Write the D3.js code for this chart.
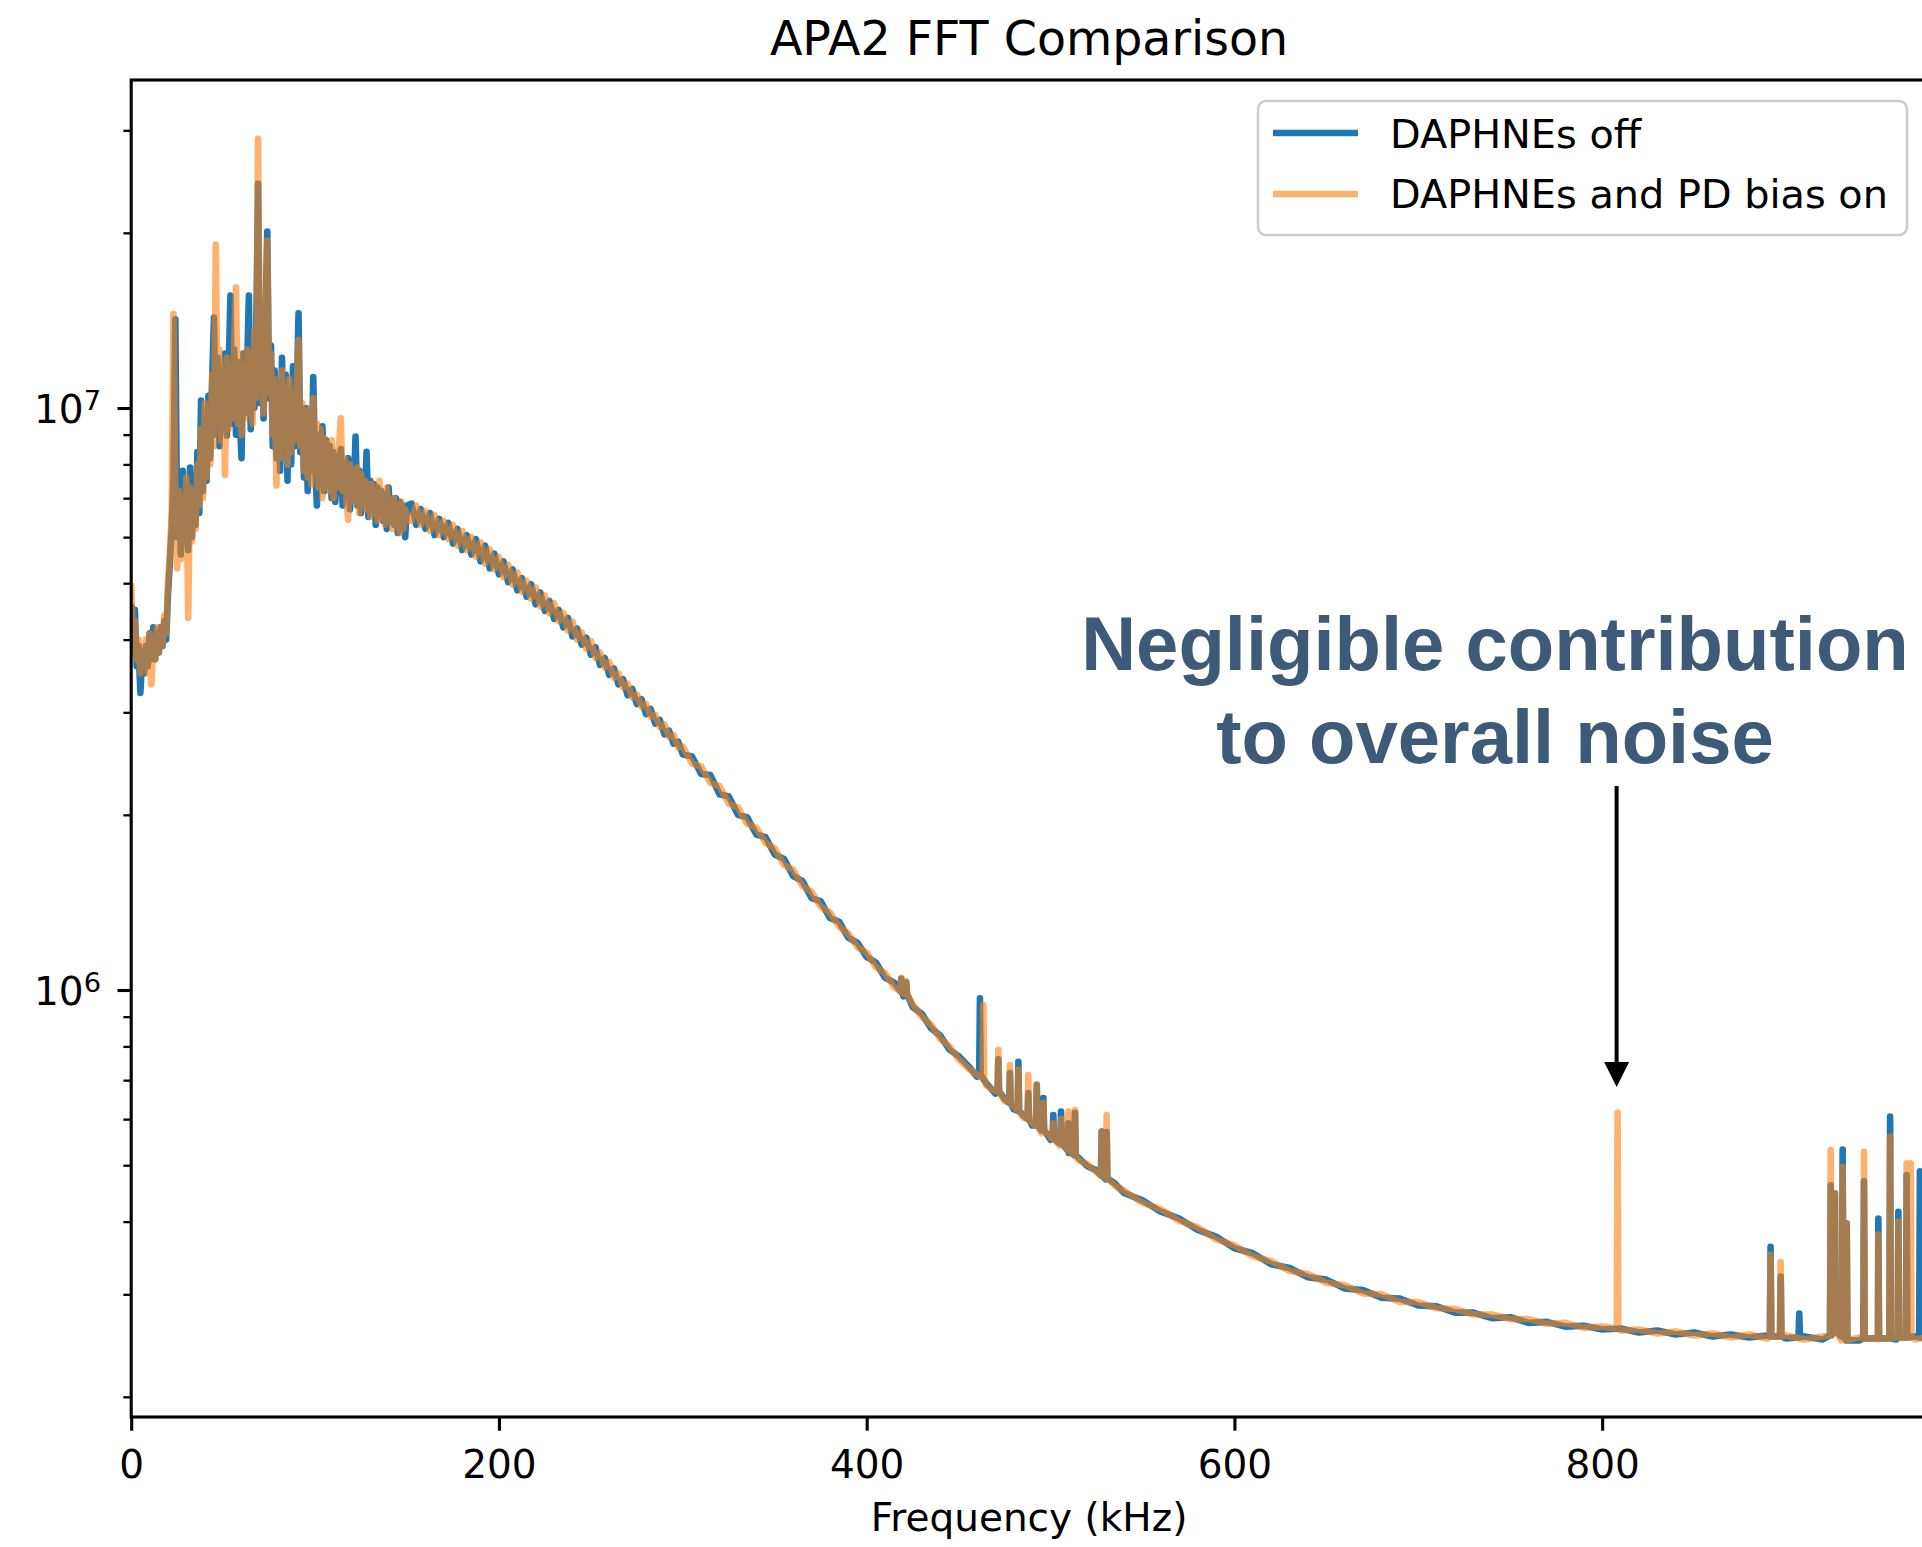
<!DOCTYPE html>
<html>
<head>
<meta charset="utf-8">
<script src="https://cdn.jsdelivr.net/npm/d3@7"></script>
<style>
  body { margin: 0; background: #fff; }
  svg { display: block; background: #fff; }
  text { font-family: "DejaVu Sans", sans-serif; }
  text.note { font-family: "Liberation Sans", Arial, sans-serif; font-weight: bold; }
</style>
</head>
<body>
<div id="plot"></div>
<script>
// FFT amplitude, values in millions

const unit = 1e6;

// 0 - 150 kHz, one value per kHz
const denseStart = 0, denseStep = 1;
const offDense = [
  4.6,3.9,4.5,3.6,3.9,3.24,3.8,3.5,3.9,3.6,
  4.1,3.7,4.2,3.7,4.1,3.8,4.2,3.9,4.3,4.0,
  4.8,5.4,6.2,7.6,14.2,6.0,7.4,5.6,7.8,5.9,
  7.2,5.7,7.9,6.0,7.0,6.3,8.4,6.6,10.3,7.2,
  9.6,7.5,10.5,8.2,11.0,14.3,9.0,12.2,8.6,11.5,
  9.2,12.4,8.96,11.8,15.6,9.4,12.6,9.0,12.0,9.6,
  8.2,12.4,9.8,11.6,15.6,9.2,12.8,10.0,13.5,24.3,
  10.2,13.2,9.6,14.0,20.1,10.4,12.8,8.6,11.6,8.2,
  11.0,7.8,12.2,8.4,11.4,7.5,10.6,8.0,11.8,8.6,
  10.2,14.55,8.4,9.6,7.6,10.0,7.2,9.4,7.8,11.3,
  8.0,6.8,9.0,7.4,9.3,7.2,8.8,7.4,8.6,7.0,
  8.4,6.9,8.2,7.2,8.5,6.8,8.0,7.1,8.2,6.7,
  7.9,7.0,8.93,6.8,7.8,6.6,7.6,6.9,8.41,6.5,
  7.5,6.7,7.4,6.3,7.3,6.6,7.2,6.4,7.1,6.2,
  7.3,6.4,7.0,6.3,7.0,6.1,6.9,6.3,6.8,6.0,6.8
];
const onDense = [
  5.0,3.8,4.3,3.7,4.0,3.5,3.9,3.6,4.0,3.5,
  4.1,3.35,4.0,3.7,4.2,3.8,4.1,3.9,4.4,4.1,
  5.0,5.6,6.6,14.5,7.0,5.3,7.2,5.5,6.8,5.8,
  7.6,4.36,7.3,5.9,6.8,6.2,8.0,6.8,9.2,7.0,
  10.2,7.6,9.8,8.0,11.4,8.6,19.1,9.4,12.6,8.8,
  11.8,7.67,12.2,9.2,11.4,9.6,12.8,16.1,9.4,12.4,
  9.0,11.8,9.6,12.6,9.8,12.2,9.4,13.6,10.4,29.0,
  11.0,12.6,9.8,13.8,19.4,10.6,12.4,9.0,11.2,7.36,
  10.8,8.2,11.6,8.6,10.8,8.0,11.2,8.4,10.6,8.8,
  10.8,13.1,8.6,10.2,7.8,9.8,7.6,10.0,7.4,10.4,
  7.8,9.4,7.3,9.2,7.0,8.9,7.6,8.7,7.2,8.8,
  7.0,8.5,7.3,8.6,9.6,7.2,8.2,7.0,6.43,8.0,
  7.1,7.8,6.9,7.9,6.6,7.7,6.8,7.5,6.7,7.4,
  6.5,7.4,6.6,7.2,6.4,7.5,6.5,7.1,6.3,7.3,
  6.4,6.9,6.2,7.0,6.3,6.8,6.1,6.9,6.2,6.7,6.4
];

// 152.5 - 300 kHz
const midStart = 152.5, midStep = 2.5;
const offMid = [
  6.85,6.30,6.70,6.20,6.60,6.05,6.45,6.00,6.35,5.85,
  6.20,5.70,6.05,5.60,5.95,5.45,5.80,5.30,5.62,5.18,
  5.45,5.02,5.28,4.86,5.10,4.74,4.98,4.60,4.82,4.48,
  4.66,4.34,4.50,4.20,4.36,4.05,4.18,3.92,4.03,3.77,
  3.88,3.62,3.72,3.48,3.57,3.35,3.42,3.21,3.29,3.10,
  3.16,2.98,3.04,2.87,2.91,2.75,2.79,2.65,2.67,2.54
];
const onMid = [
  6.40,6.80,6.30,6.65,6.15,6.55,6.05,6.40,5.95,6.30,
  5.80,6.15,5.70,6.00,5.55,5.88,5.40,5.72,5.28,5.55,
  5.12,5.38,4.97,5.22,4.83,5.05,4.70,4.92,4.56,4.76,
  4.44,4.62,4.30,4.45,4.15,4.30,4.00,4.12,3.86,3.98,
  3.72,3.80,3.58,3.66,3.44,3.50,3.31,3.36,3.18,3.22,
  3.07,3.10,2.95,2.97,2.83,2.86,2.72,2.74,2.61,2.62
];

// 305 - 450 kHz
const tailStart = 305, tailStep = 5;
const offTail = [
  2.52,2.35,2.34,2.17,2.15,2.00,1.98,1.85,1.83,1.71,
  1.68,1.57,1.54,1.44,1.42,1.33,1.31,1.23,1.205,1.14,
  1.115,1.05,1.03,0.975,0.935,0.91,0.86,0.835,0.79,0.77
];
const onTail = [
  2.45,2.42,2.27,2.24,2.09,2.06,1.93,1.90,1.79,1.75,
  1.64,1.61,1.51,1.475,1.39,1.36,1.285,1.25,1.185,1.16,
  1.095,1.07,1.01,0.985,0.945,0.90,0.872,0.825,0.80,0.76
];

// 455 kHz to the end: [kHz, value]
const offHigh = [[455,0.742],[460,0.71],[465,0.692],[470,0.664],[475,0.65],[480,0.624],[485,0.61],[490,0.585],[495,0.574],[500,0.553],[505,0.545],[510,0.525],[515,0.516],[520,0.498],[525,0.49],[530,0.473],[535,0.465],[540,0.448],[550,0.435],[560,0.416],[570,0.405],[580,0.387],[590,0.377],[600,0.36],[610,0.353],[620,0.338],[630,0.333],[640,0.321],[650,0.318],[660,0.307],[670,0.305],[680,0.296],[690,0.295],[700,0.287],[710,0.286],[720,0.279],[730,0.279],[740,0.273],[750,0.274],[760,0.268],[770,0.269],[780,0.264],[790,0.265],[800,0.261],[810,0.262],[820,0.258],[830,0.26],[840,0.256],[850,0.258],[860,0.254],[870,0.256],[880,0.253],[890,0.255],[900,0.252],[910,0.254],[920,0.251],[930,0.254],[940,0.25],[950,0.253],[960,0.251],[970,0.254],[976,0.252]];
const onHigh = [[455,0.735],[460,0.715],[465,0.686],[470,0.67],[475,0.644],[480,0.63],[485,0.604],[490,0.59],[495,0.568],[500,0.558],[505,0.54],[510,0.529],[515,0.511],[520,0.502],[525,0.486],[530,0.477],[535,0.461],[540,0.452],[550,0.431],[560,0.42],[570,0.401],[580,0.391],[590,0.373],[600,0.364],[610,0.349],[620,0.342],[630,0.329],[640,0.325],[650,0.314],[660,0.311],[670,0.301],[680,0.3],[690,0.291],[700,0.291],[710,0.284],[720,0.283],[730,0.277],[740,0.277],[750,0.272],[760,0.272],[770,0.267],[780,0.268],[790,0.263],[800,0.264],[810,0.26],[820,0.261],[830,0.257],[840,0.259],[850,0.255],[860,0.257],[870,0.253],[880,0.256],[890,0.252],[900,0.255],[910,0.251],[920,0.254],[930,0.25],[940,0.253],[950,0.251],[960,0.253],[970,0.251],[976,0.253]];

// narrow peaks: [kHz, base, peak]
const offSpikes = [[418.8,0.995,1.045],[421.5,0.985,1.03],[461.6,0.715,0.968],[471.6,0.67,0.76],[477.9,0.64,0.72],[482.5,0.62,0.753],[487.9,0.60,0.665],[492.5,0.585,0.687],[496.1,0.575,0.652],[501.5,0.555,0.61],[505.7,0.545,0.618],[509.7,0.53,0.59],[513.3,0.52,0.615],[527.8,0.48,0.571],[530.5,0.475,0.57],[891.6,0.254,0.362],[897.1,0.254,0.322],[907.2,0.253,0.278],[924.3,0.255,0.462],[926.6,0.26,0.447],[930.8,0.255,0.532],[933,0.25,0.397],[942.4,0.252,0.469],[950.2,0.252,0.405],[956.6,0.252,0.606],[961.1,0.253,0.416],[965.6,0.253,0.481],[972.8,0.253,0.488]];
const onSpikes = [[418.8,0.995,1.05],[421.5,0.985,1.035],[463.5,0.705,0.942],[471.6,0.67,0.789],[477.9,0.64,0.743],[482.5,0.62,0.73],[487.9,0.60,0.714],[492.5,0.585,0.687],[496.1,0.575,0.64],[501.5,0.555,0.59],[505.7,0.545,0.60],[509.7,0.53,0.618],[513.3,0.52,0.622],[527.8,0.48,0.571],[530.5,0.475,0.61],[808.4,0.262,0.615],[891.6,0.254,0.351],[897.1,0.254,0.341],[924.3,0.255,0.531],[926.6,0.26,0.447],[930.8,0.255,0.497],[933,0.25,0.397],[942.4,0.252,0.527],[950.2,0.252,0.38],[956.6,0.252,0.56],[961.1,0.253,0.40],[965.6,0.253,0.504],[967.8,0.253,0.504]];

const seriesNames = ["DAPHNEs off", "DAPHNEs and PD bias on"];
const xTicks = [0, 200, 400, 600, 800];
const yMajorTicks = [1e6, 1e7];
const yMinorTicks = [2e5,3e5,4e5,5e5,6e5,7e5,8e5,9e5,2e6,3e6,4e6,5e6,6e6,7e6,8e6,9e6,2e7,3e7];
const noteLines = ["Negligible contribution", "to overall noise"];
const noteFreq = 808.4;

// set svg dimensions and plot box
const svgWidth = 1922;
const svgHeight = 1547;
const plot = {left: 131.2, right: 1926.8, top: 80, bottom: 1417};
const fontSize = 39;
const lineWidth = 6.6;

let svg = d3.select("#plot")
  .append("svg")
  .attr("width", svgWidth)
  .attr("height", svgHeight);

// scales
var x = d3.scaleLinear()
  .domain([0, 976.5625])
  .range([plot.left, plot.right]);

var y = d3.scaleLog()
  .domain([1.8465e5, 3.661e7])
  .range([plot.bottom, plot.top]);

// put the pieces of one series together, sorted by frequency
function buildSeries(dense, mid, tail, high, spikes) {
  let pts = [];
  dense.forEach((v, i) => pts.push([denseStart + i * denseStep, v]));
  mid.forEach((v, i) => pts.push([midStart + i * midStep, v]));
  tail.forEach((v, i) => pts.push([tailStart + i * tailStep, v]));
  high.forEach(d => pts.push(d));
  spikes.forEach(s => {
    pts.push([s[0] - 0.4, s[1]], [s[0], s[2]], [s[0] + 0.4, s[1]]);
  });
  pts.sort((a, b) => a[0] - b[0]);
  return pts;
}

let offData = buildSeries(offDense, offMid, offTail, offHigh, offSpikes);
let onData = buildSeries(onDense, onMid, onTail, onHigh, onSpikes);

svg.append("clipPath")
  .attr("id", "clip")
  .append("rect")
  .attr("x", plot.left)
  .attr("y", plot.top)
  .attr("width", plot.right - plot.left)
  .attr("height", plot.bottom - plot.top);

let line = d3.line()
  .x(d => x(d[0]))
  .y(d => y(d[1] * unit));

let lines = svg.append("g").attr("clip-path", "url(#clip)");

lines.append("path")
  .datum(offData)
  .attr("d", line)
  .attr("fill", "none")
  .attr("stroke", "#1f77b4")
  .attr("stroke-width", lineWidth)
  .attr("stroke-linejoin", "round");

lines.append("path")
  .datum(onData)
  .attr("d", line)
  .attr("fill", "none")
  .attr("stroke", "#ff7f0e")
  .attr("stroke-opacity", 0.6)
  .attr("stroke-width", lineWidth)
  .attr("stroke-linejoin", "round");

// X axis
let xAxis = svg.append("g")
  .attr("transform", "translate(0," + plot.bottom + ")")
  .call(d3.axisBottom(x).tickValues(xTicks).tickSize(13.7).tickPadding(19.6).tickFormat(d3.format("d")));

// Y axis, major ticks with 10^n labels
let yAxis = svg.append("g")
  .attr("transform", "translate(" + plot.left + ",0)")
  .call(d3.axisLeft(y).tickValues(yMajorTicks).tickSize(13.7).tickPadding(16.5));

yAxis.selectAll(".tick text")
  .attr("dy", "0.38em")
  .each(function(d) {
    let t = d3.select(this);
    t.text(null);
    t.append("tspan").text("10");
    t.append("tspan").attr("dy", -13).attr("font-size", 27.3).text(Math.round(Math.log10(d)));
  });

// minor ticks
let yMinor = svg.append("g")
  .attr("transform", "translate(" + plot.left + ",0)")
  .call(d3.axisLeft(y).tickValues(yMinorTicks).tickSize(7.8).tickFormat(""));
yMinor.selectAll(".tick line").attr("stroke-width", 2.3);

[xAxis, yAxis, yMinor].forEach(g => {
  g.select(".domain").remove();
  g.selectAll(".tick text")
    .attr("font-size", fontSize)
    .attr("fill", "#000");
});
xAxis.selectAll(".tick line").attr("stroke-width", 3.1).attr("stroke", "#000");
yAxis.selectAll(".tick line").attr("stroke-width", 3.1).attr("stroke", "#000");

// spines
svg.append("rect")
  .attr("x", plot.left)
  .attr("y", plot.top)
  .attr("width", plot.right - plot.left)
  .attr("height", plot.bottom - plot.top)
  .attr("fill", "none")
  .attr("stroke", "#000")
  .attr("stroke-width", 3.1);

// title and axis label
svg.append("text")
  .attr("x", (plot.left + plot.right) / 2)
  .attr("y", 55)
  .attr("text-anchor", "middle")
  .attr("font-size", 47.5)
  .text("APA2 FFT Comparison");

svg.append("text")
  .attr("x", (plot.left + plot.right) / 2)
  .attr("y", 1531)
  .attr("text-anchor", "middle")
  .attr("font-size", fontSize)
  .text("Frequency (kHz)");

// legend
let legend = svg.append("g");
legend.append("rect")
  .attr("x", 1258)
  .attr("y", 101)
  .attr("width", 649)
  .attr("height", 134)
  .attr("rx", 8)
  .attr("fill", "#fff")
  .attr("fill-opacity", 0.8)
  .attr("stroke", "#cccccc")
  .attr("stroke-width", 2.5);

let legendStyles = [
  {color: "#1f77b4", opacity: 1, lineY: 133, textY: 148},
  {color: "#ff7f0e", opacity: 0.6, lineY: 194, textY: 208}
];
seriesNames.forEach((name, i) => {
  let s = legendStyles[i];
  legend.append("line")
    .attr("x1", 1273).attr("x2", 1358)
    .attr("y1", s.lineY).attr("y2", s.lineY)
    .attr("stroke", s.color)
    .attr("stroke-opacity", s.opacity)
    .attr("stroke-width", lineWidth);
  legend.append("text")
    .attr("x", 1390)
    .attr("y", s.textY)
    .attr("font-size", 39.8)
    .text(name);
});

// annotation
let note = svg.append("g");
noteLines.forEach((txt, i) => {
  note.append("text")
    .attr("class", "note")
    .attr("x", 1495)
    .attr("y", 670 + i * 93)
    .attr("text-anchor", "middle")
    .attr("font-size", 76)
    .attr("fill", "#3d5a78")
    .text(txt);
});

let ax = x(noteFreq) - 1;
note.append("line")
  .attr("x1", ax).attr("x2", ax)
  .attr("y1", 786).attr("y2", 1064)
  .attr("stroke", "#000")
  .attr("stroke-width", 4);
note.append("path")
  .attr("d", "M" + (ax - 12.5) + ",1062 L" + (ax + 12.5) + ",1062 L" + ax + ",1087 Z")
  .attr("fill", "#000");
</script>
</body>
</html>
